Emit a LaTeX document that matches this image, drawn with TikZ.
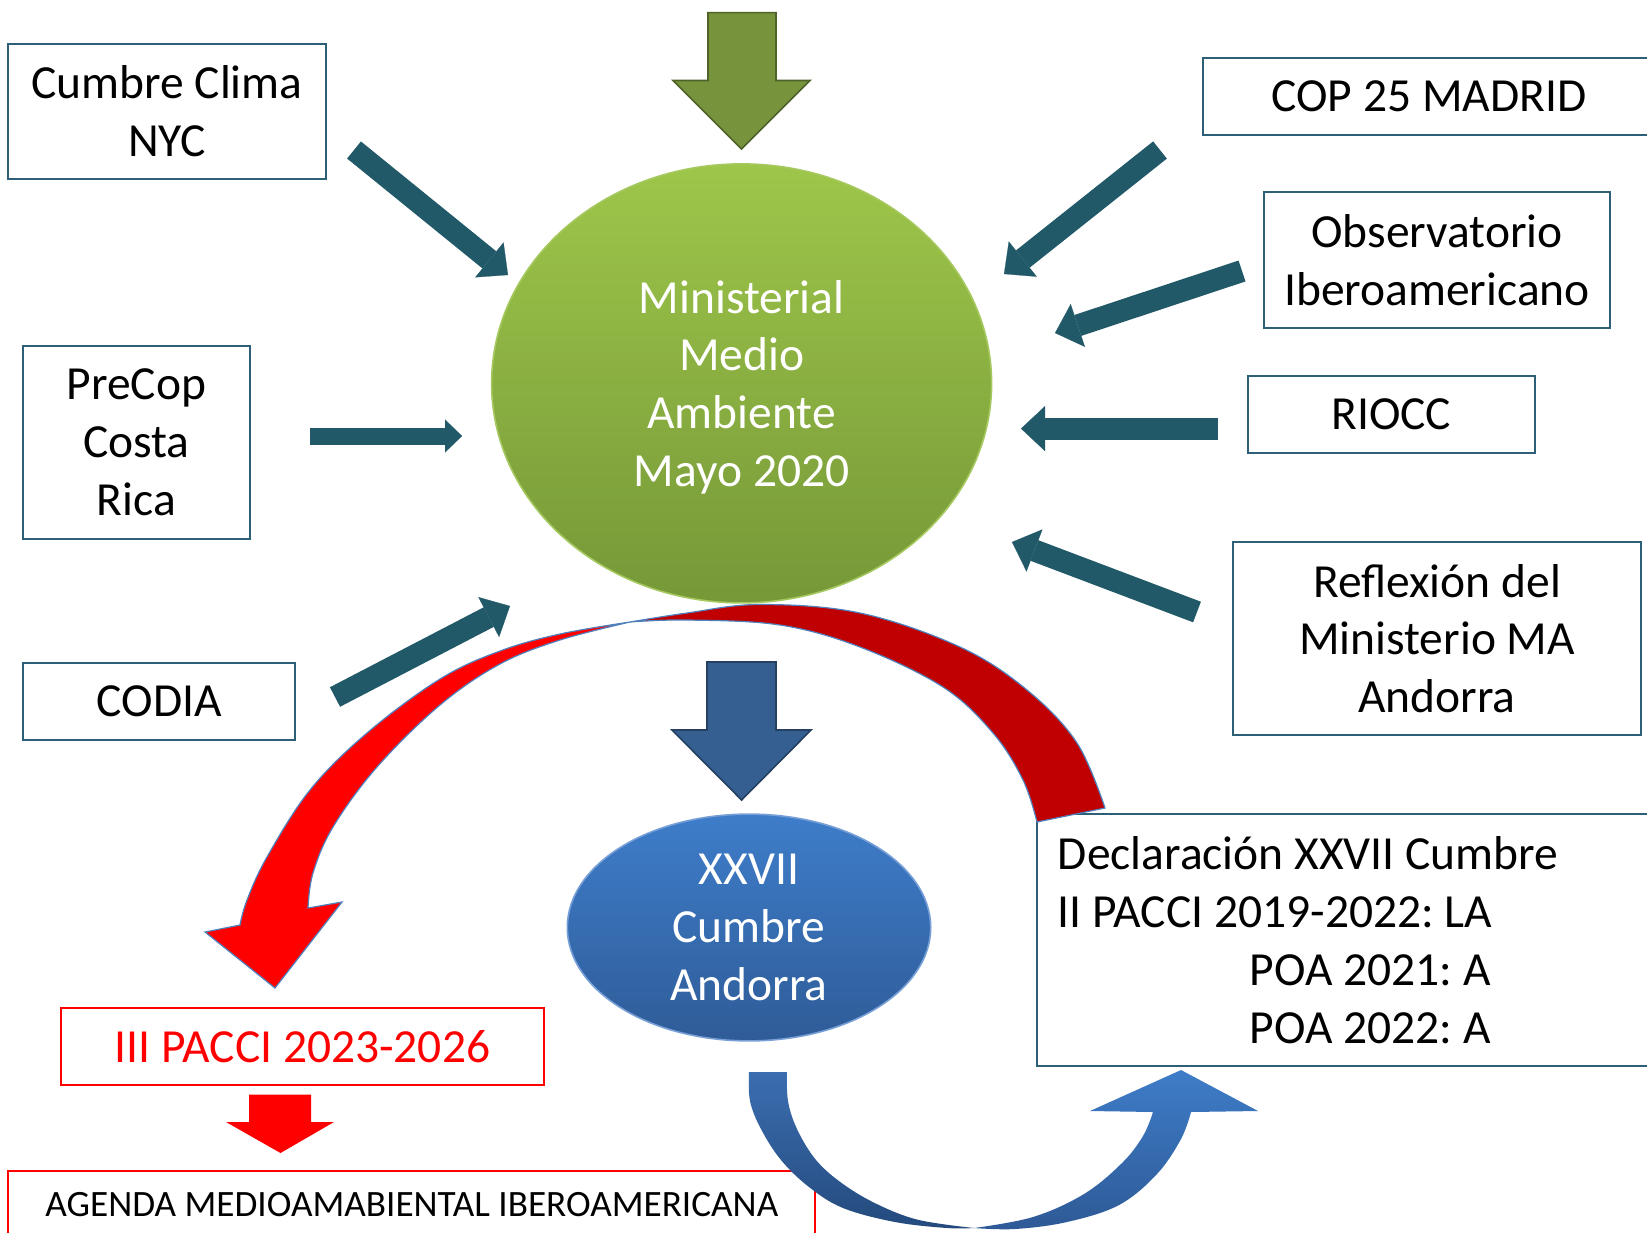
\documentclass[tikz,border=0pt]{standalone}
\usepackage{fontspec}
\setmainfont{Carlito}
\usetikzlibrary{arrows.meta,shapes.geometric,calc}

\definecolor{tealA}{RGB}{33,89,104}
\definecolor{boxc}{RGB}{45,95,120}
\definecolor{grnA}{RGB}{158,198,74}
\definecolor{grnB}{RGB}{118,152,56}
\definecolor{grnRim}{RGB}{165,200,95}
\definecolor{grnArrow}{RGB}{119,147,60}
\definecolor{grnEdge}{RGB}{79,98,40}
\definecolor{bluA}{RGB}{62,125,202}
\definecolor{bluB}{RGB}{47,92,152}
\definecolor{bluRim}{RGB}{120,160,215}
\definecolor{bluArrow}{RGB}{54,95,145}
\definecolor{bluEdge}{RGB}{37,64,97}
\definecolor{bluLa}{RGB}{59,110,176}
\definecolor{bluLb}{RGB}{36,74,125}
\definecolor{bluRa}{RGB}{62,124,200}
\definecolor{bluRb}{RGB}{46,90,150}
\definecolor{redDark}{RGB}{192,0,0}
\definecolor{redBright}{RGB}{255,0,0}
\definecolor{rimBlue}{RGB}{79,129,189}

\begin{document}
\frenchspacing
\begin{tikzpicture}[x=0.5pt,y=-0.5pt,
  every node/.style={inner sep=0pt},
  bigfont/.style={font=\fontsize{23.75pt}{28.9pt}\selectfont},
  box/.style={draw=boxc, line width=1pt, fill=white, align=center, bigfont},
  redbox/.style={draw=redBright, line width=1pt, fill=white, align=center},
  feeder/.style={draw=tealA, line width=11pt, -{Triangle[width=22.5pt,length=12pt,line width=0.1pt]}},
  smallfeeder/.style={draw=tealA, line width=8.5pt, -{Triangle[width=16.5pt,length=8.5pt,line width=0.1pt]}},
  ribbon/.style={draw=rimBlue, line width=0.6pt},
  blockarrow/.style={line width=0.8pt, line join=miter}
]
\clip (0,0) rectangle (1647,1232);
\fill[white] (0,0) rectangle (1647,1232);

% ---------- boxes ----------
\node[box, minimum width=158.6pt, minimum height=67.3pt] (nyc) at (167,111.3) {Cumbre Clima\\NYC};
\node[box, minimum width=226pt, minimum height=38.85pt] (cop) at (1429,96.6) {COP 25 MADRID};
\node[box, minimum width=173.35pt, minimum height=67.75pt] (obs) at (1437,260) {Observatorio\\Iberoamericano};
\node[box, minimum width=113.45pt, minimum height=96.65pt] (precop) at (136.5,442.3) {PreCop\\Costa\\Rica};
\node[box, minimum width=143.35pt, minimum height=38.35pt] (riocc) at (1391.2,414.3) {RIOCC};
\node[box, minimum width=203.75pt, minimum height=96.65pt] (refl) at (1437,638.6) {Reflexión del\\Ministerio MA\\Andorra};
\node[box, minimum width=136pt, minimum height=38.85pt] (codia) at (159.2,701.6) {CODIA};
\node[box, align=flush left, text width=290.5pt, inner xsep=10.5pt, minimum height=126.1pt] (decl) at (1348.4,940.1)
  {Declaración XXVII Cumbre\\II PACCI 2019-2022: LA\\\hspace*{96pt}POA 2021: A\\\hspace*{96pt}POA 2022: A};
\node[redbox, bigfont, text=redBright, minimum width=241.6pt, minimum height=38.35pt] (pacci) at (302.5,1046.8) {III PACCI 2023-2026};
\node[redbox, font=\fontsize{18.6pt}{22pt}\selectfont, minimum width=403.35pt, minimum height=33.6pt] (agenda) at (411.8,1204.8) {AGENDA MEDIOAMABIENTAL IBEROAMERICANA};

% ---------- ellipses ----------
\node[ellipse, minimum width=250pt, minimum height=219.5pt, top color=grnA, bottom color=grnB, draw=grnRim, line width=0.8pt,
      text=white, bigfont, align=center, text depth=0pt] (mma) at (741.6,383.4) {Ministerial\\Medio\\Ambiente\\Mayo 2020};
\node[ellipse, minimum width=181.7pt, minimum height=113.4pt, top color=bluA, bottom color=bluB, draw=bluRim, line width=0.8pt,
      text=white, bigfont, align=center] (xxvii) at (749,927.5) {XXVII\\Cumbre\\Andorra};

% ---------- block arrows (vertical) ----------
\filldraw[blockarrow, fill=grnArrow, draw=grnEdge]
  (708,12.6) -- (776,12.6) -- (776,80.5) -- (810,80.5) -- (741.6,149) -- (673,80.5) -- (708,80.5) -- cycle;
\filldraw[blockarrow, fill=bluArrow, draw=bluEdge]
  (707,662) -- (776,662) -- (776,730) -- (811,730) -- (741.6,800) -- (672,730) -- (707,730) -- cycle;
\fill[redBright]
  (249,1094.5) -- (311,1094.5) -- (311,1122) -- (334,1122) -- (280.5,1153) -- (226,1122) -- (249,1122) -- cycle;

% ---------- feeder arrows ----------
\coordinate (nycT) at (354,150);   \coordinate (nycH) at (508,275);
\coordinate (copT) at (1160,150);  \coordinate (copH) at (1004,274);
\coordinate (obsT) at (1242,271);  \coordinate (obsH) at (1055,333);
\coordinate (rioT) at (1218,428.6); \coordinate (rioH) at (1021,428.6);
\coordinate (refT) at (1197,612);  \coordinate (refH) at (1012,542);
\coordinate (preT) at (310,436);   \coordinate (preH) at (462,436);
\coordinate (codT) at (335,697);   \coordinate (codH) at (510,606);
\draw[feeder] (nycT) -- (nycH);
\draw[feeder] (copT) -- (copH);
\draw[feeder] (obsT) -- (obsH);
\draw[feeder] (rioT) -- (rioH);
\draw[feeder] (refT) -- (refH);
\draw[smallfeeder] (preT) -- (preH);
\draw[feeder] (codT) -- (codH);

% ---------- red curved arrow ----------
\filldraw[ribbon, fill=redDark]
  plot[smooth, tension=0.6] coordinates {(630,622) (687,613) (760,604.5) (860,613) (960,647) (1027,690) (1077,743) (1105,808)}
  -- plot[smooth, tension=0.6] coordinates {(1037,822) (1023,780) (993,733) (943,687) (860,647) (780,625) (687,620) (630,622)}
  -- cycle;
\filldraw[ribbon, fill=redBright]
  plot[smooth, tension=0.6] coordinates {(630,622) (560,634) (500,651) (440,679) (367,733) (310,790) (267,857) (247,900) (240,925)}
  -- (205,932) -- (275,988) -- (342,902)
  -- plot[smooth, tension=0.6] coordinates {(308,908) (313,873) (333,827) (377,767) (440,705) (500,664) (560,640) (630,622)}
  -- cycle;

% ---------- blue curved arrow ----------
\shade[top color=bluLa, bottom color=bluLb]
  plot[smooth, tension=0.6] coordinates {(749,1072) (750,1101) (761,1129) (781,1160) (809,1187) (843,1208) (895,1222) (947,1228) (974,1228)}
  -- plot[smooth, tension=0.6] coordinates {(974,1228) (919,1220) (878,1204.6) (843,1184) (816,1160) (797,1129) (788,1101) (787,1072)}
  -- cycle;
\shade[top color=bluRa, bottom color=bluRb]
  plot[smooth, tension=0.6] coordinates {(974,1228) (1015,1229) (1067,1222) (1119,1205) (1157,1174) (1181,1139) (1191,1112)}
  -- (1258,1111) -- (1181,1070) -- (1090,1111)
  -- plot[smooth, tension=0.6] coordinates {(1153,1112) (1143,1136) (1122,1163) (1084,1194) (1033,1217) (974,1228)}
  -- cycle;
\end{tikzpicture}
\end{document}
